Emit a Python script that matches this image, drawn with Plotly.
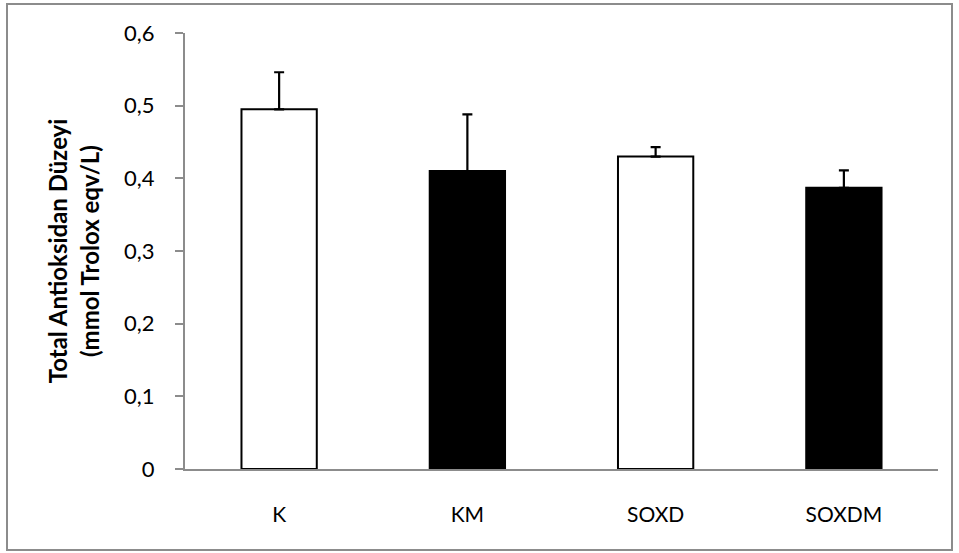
import plotly.graph_objects as go

categories = ["K", "KM", "SOXD", "SOXDM"]
values = [0.495, 0.41, 0.43, 0.387]
errors = [0.051, 0.078, 0.013, 0.024]
fill_colors = ["white", "black", "white", "black"]
line_colors = ["black", "black", "black", "black"]

W, H = 959, 553
L, R, T, B = 185, 21, 33, 84
pw, ph = W - L - R, H - T - B

def px_to_paper_x(px):
    return (px - L) / pw

def px_to_paper_y(py):
    return (H - B - py) / ph

fig = go.Figure()
fig.add_trace(go.Bar(
    x=categories, y=values,
    marker=dict(color=fill_colors, line=dict(color=line_colors, width=2)),
    width=0.4,
    error_y=dict(type="data", array=errors, symmetric=False, arrayminus=[0]*4,
                 color="black", thickness=2.2, width=5),
    showlegend=False,
))

fig.update_layout(
    width=W, height=H,
    margin=dict(l=L, r=R, t=T, b=B, autoexpand=False),
    paper_bgcolor="white", plot_bgcolor="white",
    separators=",.",
    font=dict(family="Lato, Open Sans, sans-serif", size=21, color="black"),
    xaxis=dict(
        showline=True, linecolor="#8c8c8c", linewidth=2,
        ticks="", showgrid=False, zeroline=False,
        tickfont=dict(size=21), ticklabelstandoff=26,
        range=[-0.5, 3.5],
    ),
    yaxis=dict(
        range=[0, 0.6], dtick=0.1, tick0=0,
        showline=True, linecolor="#8c8c8c", linewidth=2,
        ticks="outside", ticklen=8, tickcolor="#8c8c8c", tickwidth=2,
        showgrid=False, zeroline=False,
        tickfont=dict(size=22), ticklabelstandoff=16,
        title=dict(text="<b>Total Antioksidan Düzeyi<br>(mmol Trolox eqv/L)</b>",
                   font=dict(size=24), standoff=18),
        automargin=False,
    ),
    shapes=[dict(
        type="rect", xref="paper", yref="paper",
        x0=px_to_paper_x(7), x1=px_to_paper_x(952),
        y0=px_to_paper_y(550), y1=px_to_paper_y(4),
        line=dict(color="#8c8c8c", width=2), fillcolor="rgba(0,0,0,0)",
        layer="below",
    )],
)

fig.write_html("out.html")
